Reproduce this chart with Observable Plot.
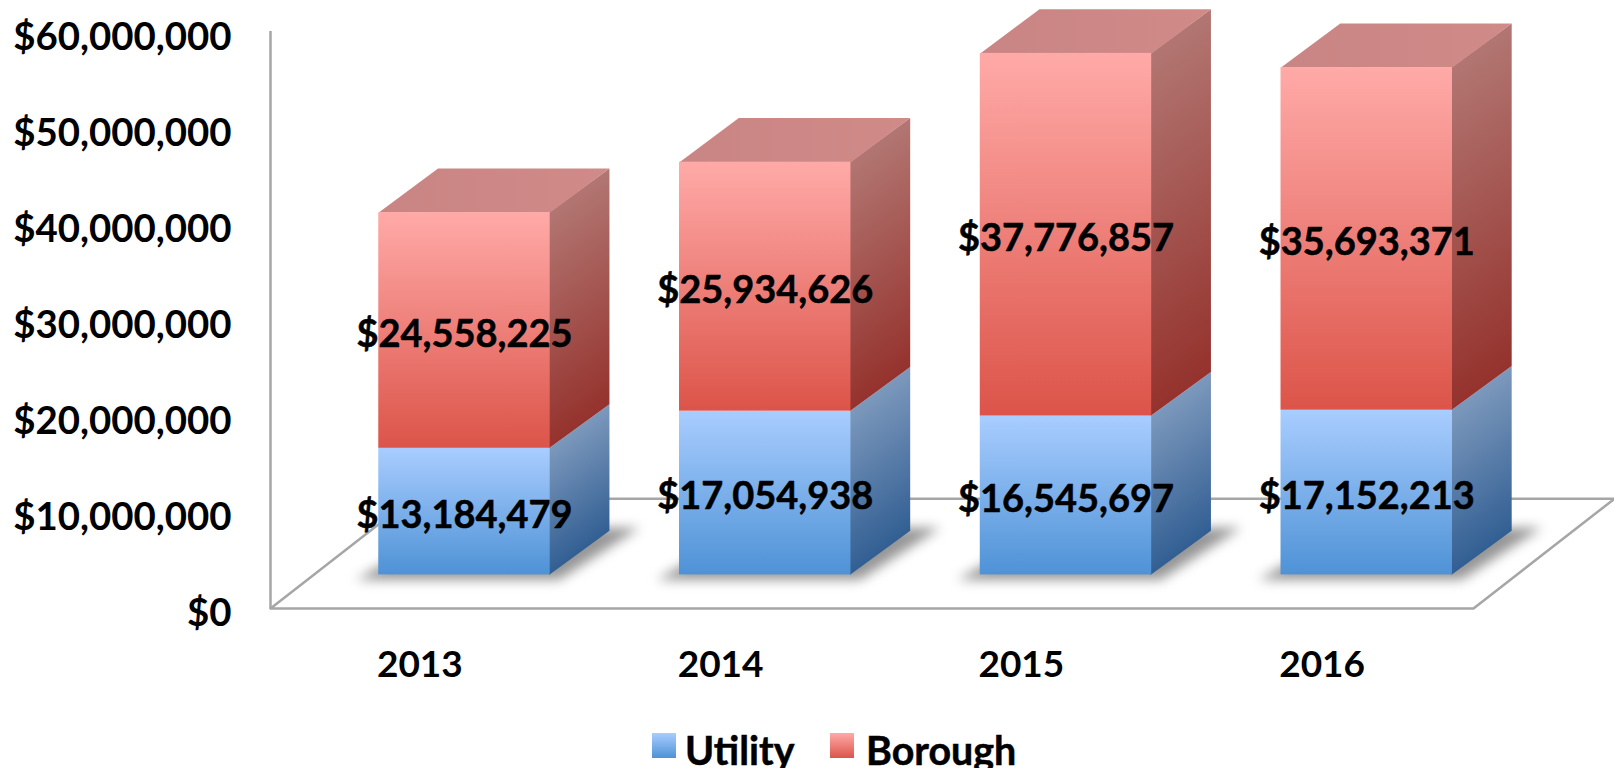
<!DOCTYPE html>
<html>
<head>
<meta charset="utf-8">
<script src="https://cdn.jsdelivr.net/npm/d3@7"></script>
<script src="https://cdn.jsdelivr.net/npm/@observablehq/plot@0.6"></script>
<style>
  html, body { margin: 0; padding: 0; background: #fff; overflow: hidden; }
  #chart svg { display: block; }
  #legend { position: relative; height: 40px; width: 1614px; overflow: hidden;
    font: 700 39.4px Lato, sans-serif; color: #000; -webkit-text-stroke: 0.5px #000; }
  #legend span { position: absolute; line-height: 40px; top: 2px; white-space: nowrap; }
  #legend i { position: absolute; top: 5px; width: 24px; height: 25px; display: block; }
</style>
</head>
<body>
<div id="chart"></div>
<div id="legend"></div>
<script>
const years = [2013, 2014, 2015, 2016];
const utility = [13184479, 17054938, 16545697, 17152213];
const borough = [24558225, 25934626, 37776857, 35693371];
const yTicks = [0, 10000000, 20000000, 30000000, 40000000, 50000000, 60000000];
const seriesNames = ["Utility", "Borough"];

// 3D projection constants, in data units
const floorDX = 0.469, floorDY = 11.44e6;
const barDX = 0.197, barDY = 4.6e6, barLift = 3.5e6;
const barLeft = -0.14, barRight = 0.43;

const palette = {
  Utility: {front: ["#A9CDFF", "#4E92D6"], side: ["#7C98BC", "#325F93"], swatch: ["#A9CDFF", "#4E92D6"]},
  Borough: {front: ["#FFAAA8", "#DC5449"], side: ["#B27672", "#95322D"], top: ["#C98583", "#D08B89"], swatch: ["#FFAAA8", "#DC5449"]}
};

const segs = [];
years.forEach((year, i) => {
  segs.push({year, name: "Utility", i, v: utility[i], y1: barLift, y2: barLift + utility[i]});
  segs.push({year, name: "Borough", i, v: borough[i], y1: barLift + utility[i], y2: barLift + utility[i] + borough[i]});
});
segs.forEach(s => {
  s.x1 = s.year + barLeft;
  s.x2 = s.year + barRight;
  s.frontId = `front-${s.name}`;
  s.sideId = `side-${s.name}-${s.year}`;
});

const poly = (id, pts) => pts.map(([x, y]) => ({id, x, y}));

const overlap = 0.004; // hides the hairline between a bar's front and side
const sidePts = segs.flatMap(s => poly(`url(#${s.sideId})`, [
  [s.x2 - overlap, s.y1], [s.x2 + barDX, s.y1 + barDY], [s.x2 + barDX, s.y2 + barDY], [s.x2 - overlap, s.y2]
]));
const topPts = segs.filter(s => s.name === "Borough").flatMap(s => poly("url(#top-Borough)", [
  [s.x1, s.y2], [s.x2, s.y2], [s.x2 + barDX, s.y2 + barDY], [s.x1 + barDX, s.y2 + barDY]
]).map(p => ({...p, key: s.year})));
const shadowPts = years.flatMap(year => poly(`s${year}`, [
  [year + barLeft - 0.075, barLift - 0.5e6], [year + barRight + 0.03, barLift - 0.5e6],
  [year + barRight + barDX + 0.1, barLift + barDY + 0.3e6], [year + barLeft + barDX + 0.03, barLift + barDY + 0.3e6]
]));
const floorPts = [
  {x: 2012.5, y: 0}, {x: 2016.5, y: 0},
  {x: 2016.5 + floorDX, y: floorDY}, {x: 2012.5 + floorDX, y: floorDY}
];

function defs() {
  const d = d3.create("svg:defs");
  const grad = (id, stops, x1 = 0, y1 = 0, x2 = 0, y2 = 1) => {
    const g = d.append("linearGradient").attr("id", id)
      .attr("x1", x1).attr("y1", y1).attr("x2", x2).attr("y2", y2);
    g.append("stop").attr("offset", 0).attr("stop-color", stops[0]);
    g.append("stop").attr("offset", 1).attr("stop-color", stops[1]);
  };
  grad("front-Utility", palette.Utility.front);
  grad("front-Borough", palette.Borough.front);
  grad("top-Borough", palette.Borough.top, 0, 0, 1, 0);
  segs.forEach(s => {
    const k = barDY / (barDY + s.v);
    const t = (1 - k) / (k * k + 1);
    grad(s.sideId, palette[s.name].side, 0, k, t * k, k + t);
  });
  return d.node();
}

const fmt = d3.format("$,");
const TEXT = {fontFamily: "Lato, sans-serif", fontWeight: 700, stroke: "#000", strokeWidth: 0.5};

const plot = Plot.plot({
  width: 1614, height: 728,
  marginLeft: 270, marginRight: 141, marginTop: 32, marginBottom: 120,
  x: {type: "linear", domain: [2012.5, 2016.5]},
  y: {type: "linear", domain: [0, 60000000]},
  color: {type: "identity"},
  style: {background: "#fff", color: "#000", fontFamily: "Lato, sans-serif"},
  marks: [
    defs,
    Plot.line(floorPts, {x: "x", y: "y", curve: "linear-closed", stroke: "#A6A6A6", strokeWidth: 2.5}),
    Plot.ruleX([2012.5], {y1: 0, y2: 60100000, stroke: "#A6A6A6", strokeWidth: 2.5}),
    Plot.line(shadowPts, {x: "x", y: "y", z: "id", curve: "linear-closed", stroke: "none", fill: "#969696", imageFilter: "blur(6px)"}),
    Plot.line(sidePts, {x: "x", y: "y", z: "id", fill: "id", stroke: "none", curve: "linear-closed"}),
    Plot.line(topPts, {x: "x", y: "y", z: "key", fill: "url(#top-Borough)", stroke: "none", curve: "linear-closed"}),
    Plot.rect(segs, {x1: "x1", x2: "x2", y1: "y1", y2: "y2", fill: s => `url(#${s.frontId})`}),
    Plot.axisY({ticks: yTicks, tickSize: 0, tickPadding: 39, tickFormat: fmt, label: null, dy: 5, fontSize: 38.4, ...TEXT}),
    Plot.axisX({ticks: years, tickSize: 0, tickPadding: 42, tickFormat: d3.format("d"), label: null, dx: -1, fontSize: 37, ...TEXT}),
    Plot.text(segs, {
      x: s => (s.x1 + s.x2) / 2, y: s => (s.y1 + s.y2) / 2,
      text: s => fmt(s.v), dy: 4, fill: "#000", fontSize: 38, ...TEXT
    })
  ]
});
document.getElementById("chart").appendChild(plot);

const legend = document.getElementById("legend");
const swatchX = [652, 830], textX = [685, 866];
seriesNames.forEach((name, i) => {
  const sw = document.createElement("i");
  sw.style.left = swatchX[i] + "px";
  sw.style.background = `linear-gradient(${palette[name].swatch[0]}, ${palette[name].swatch[1]})`;
  const t = document.createElement("span");
  t.style.left = textX[i] + "px";
  t.textContent = name;
  legend.append(sw, t);
});
</script>
</body>
</html>
